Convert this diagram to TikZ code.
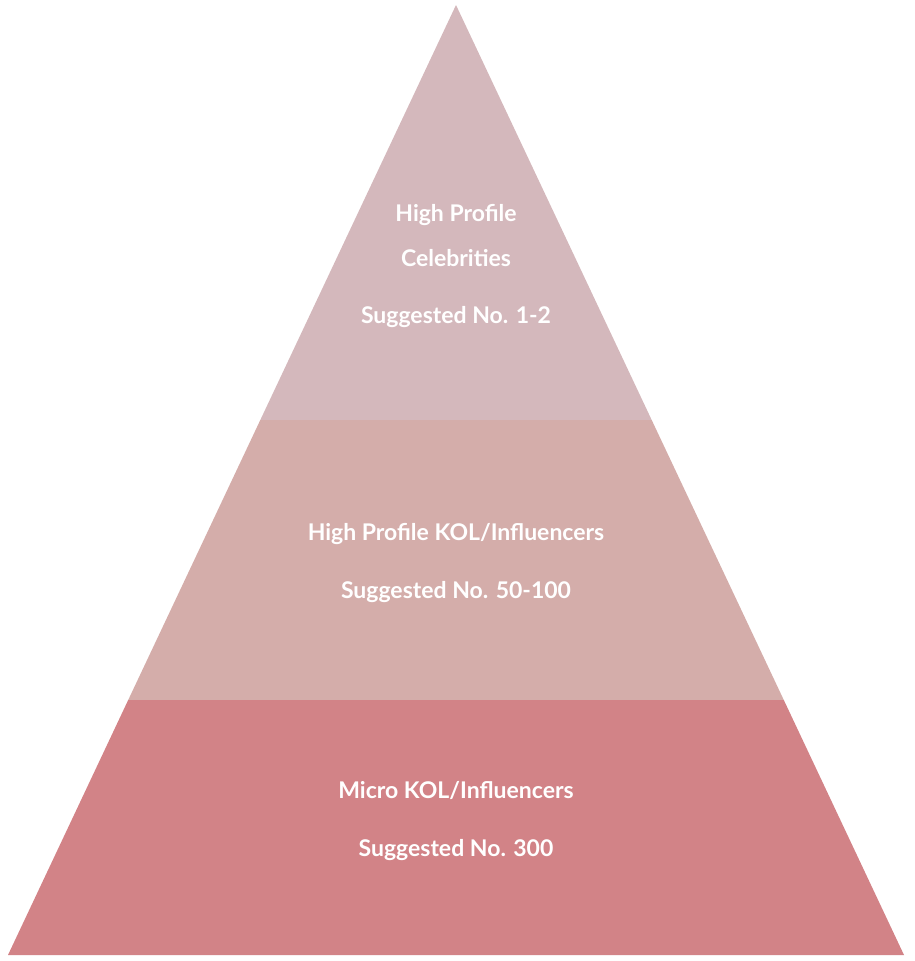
\documentclass[tikz,border=0pt]{standalone}
\usepackage{fontspec}
\setmainfont{Lato}
\usetikzlibrary{positioning}
\definecolor{tiertop}{HTML}{D4B8BC}
\definecolor{tiermid}{HTML}{D4ADAA}
\definecolor{tierbot}{HTML}{D28387}
\begin{document}
\begin{tikzpicture}[
	x=1pt, y=-1pt,
	label/.style={text=white, font=\fontsize{23}{27}\selectfont\bfseries, inner sep=0pt}
]
\useasboundingbox (0,0) rectangle (915,961);
% tiers of the pyramid
\coordinate (apex) at (456,5);
\coordinate (l1) at (260.3,420);
\coordinate (r1) at (651.7,420);
\coordinate (l2) at (128.2,700);
\coordinate (r2) at (783.8,700);
\coordinate (bl) at (8,955);
\coordinate (br) at (904,955);
\fill[tiertop] (apex) -- (r1) -- (l1) -- cycle;
\fill[tiermid] (l1) -- (r1) -- (r2) -- (l2) -- cycle;
\fill[tierbot] (l2) -- (r2) -- (br) -- (bl) -- cycle;

\node[label] (t1) at (456,215) {High Profile};
\node[label] (t2) at (456,258) {Celebrities};
\node[label] (t3) at (456,317) {Suggested No. 1-2};
\node[label] (m1) at (456,534) {High Profile KOL/Influencers};
\node[label] (m2) at (456,592) {Suggested No. 50-100};
\node[label] (b1) at (456,790) {Micro KOL/Influencers};
\node[label] (b2) at (456,850) {Suggested No. 300};
\end{tikzpicture}
\end{document}
